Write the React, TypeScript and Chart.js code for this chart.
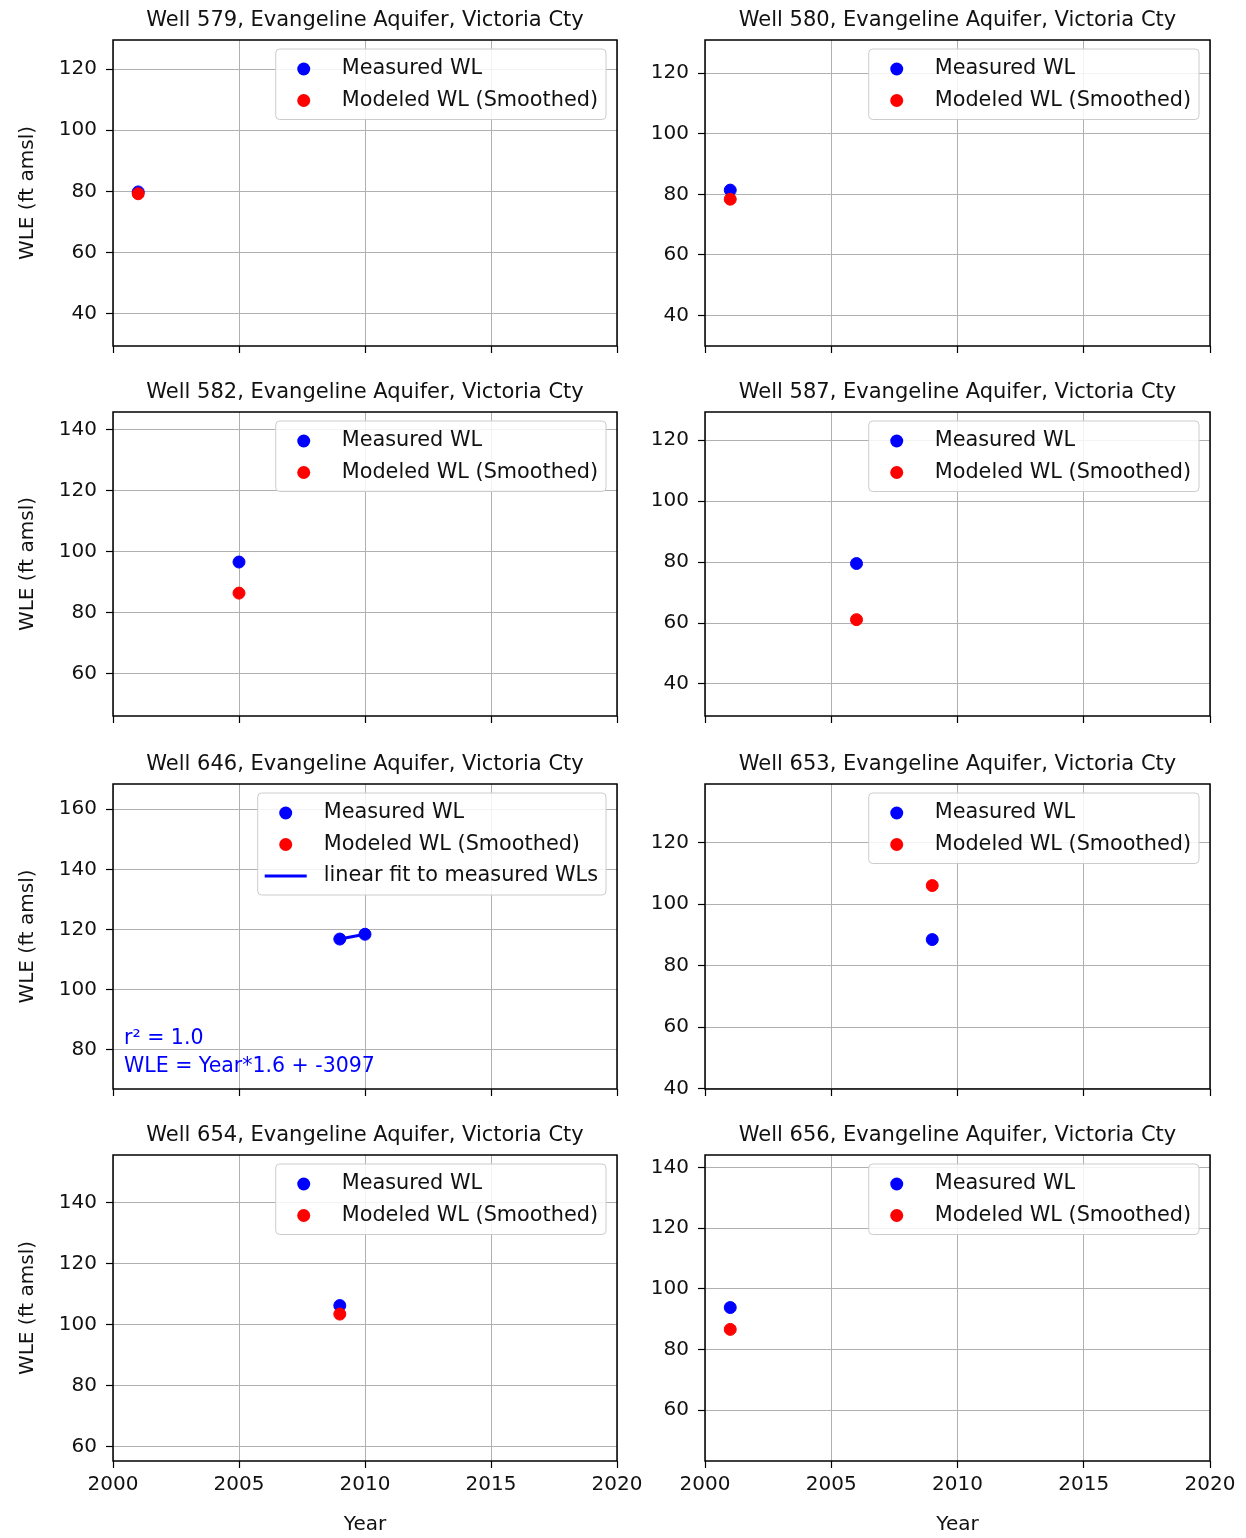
import React, { useEffect, useRef } from "react";
import { Chart, registerables } from "chart.js";

Chart.register(...registerables);

const FONT = "'DejaVu Sans', sans-serif";

// ---- data ----
const wellIds = ["579", "580", "582", "587", "646", "653", "654", "656"];
const aquifer = "Evangeline Aquifer";
const county = "Victoria Cty";

const measuredYears = [[2001], [2001], [2005], [2006], [2009, 2010], [2009], [2009], [2001]];
const measuredWL = [[79.8], [81.4], [96.7], [79.5], [116.8, 118.4], [88.5], [106.3], [93.8]];

const modeledYears = [[2001], [2001], [2005], [2006], [], [2009], [2009], [2001]];
const modeledWL = [[79.2], [78.4], [86.5], [61.1], [], [106.1], [103.5], [86.6]];

const fitYears = [[], [], [], [], [2009, 2010], [], [], []];
const fitWL = [[], [], [], [], [116.8, 118.4], [], [], []];

const fitText = [[], [], [], [], ["r² = 1.0", "WLE = Year*1.6 + -3097"], [], [], []];

const seriesLabels = ["Measured WL", "Modeled WL (Smoothed)", "linear fit to measured WLs"];

const xTicks = [2000, 2005, 2010, 2015, 2020];
const xMin = 2000;
const xMax = 2020;

const yMin = [29.4, 29.9, 46.2, 29.5, 66.9, 39.8, 55.4, 43.2];
const yMax = [129.5, 131, 145.9, 129.2, 168.4, 139.2, 155.6, 144.1];
const yTicks = [
  [40, 60, 80, 100, 120],
  [40, 60, 80, 100, 120],
  [60, 80, 100, 120, 140],
  [40, 60, 80, 100, 120],
  [80, 100, 120, 140, 160],
  [40, 60, 80, 100, 120],
  [60, 80, 100, 120, 140],
  [60, 80, 100, 120, 140],
];

const yLabel = "WLE (ft amsl)";
const xLabel = "Year";

// ---- layout ----
const colCanvasLeft = [0, 623];
const colCanvasWidth = [660, 623];
const colPlotLeft = [113, 82];
const colPlotRightPad = [43, 36];
const rowCanvasTop = [0, 372, 744, 1115];
const rowCanvasHeight = [372, 370, 371, 423];

const TEXT = "#111";
const LEGEND_FONT = 20.8;
const TITLE_FONT = 21;

function Panel({ idx }: { idx: number }) {
  const ref = useRef<HTMLCanvasElement>(null);
  const row = Math.floor(idx / 2);
  const col = idx % 2;
  const isBottom = row === 3;
  const isLeft = col === 0;

  useEffect(() => {
    if (!ref.current) return;
    const datasets: any[] = [
      {
        label: seriesLabels[0],
        data: measuredYears[idx].map((x, k) => ({ x, y: measuredWL[idx][k] })),
        backgroundColor: "#0000ff",
        borderColor: "#0000ff",
        pointRadius: 6,
        borderWidth: 1,
        showLine: false,
        order: 1,
      },
      {
        label: seriesLabels[1],
        data: modeledYears[idx].map((x, k) => ({ x, y: modeledWL[idx][k] })),
        backgroundColor: "#ff0000",
        borderColor: "#ff0000",
        pointRadius: 6,
        borderWidth: 1,
        showLine: false,
        order: 0,
      },
    ];
    if (fitYears[idx].length) {
      datasets.push({
        label: seriesLabels[2],
        data: fitYears[idx].map((x, k) => ({ x, y: fitWL[idx][k] })),
        borderColor: "#0000ff",
        backgroundColor: "#0000ff",
        borderWidth: 3,
        pointRadius: 0,
        showLine: true,
        order: 2,
      });
    }

    const decor = {
      id: "decor",
      afterDraw(chart: any) {
        const { ctx, chartArea: a } = chart;
        ctx.save();
        // frame
        ctx.strokeStyle = "#000";
        ctx.lineWidth = 1.5;
        ctx.strokeRect(a.left, a.top, a.right - a.left, a.bottom - a.top);
        // title
        ctx.fillStyle = TEXT;
        ctx.font = `${TITLE_FONT}px ${FONT}`;
        ctx.textAlign = "center";
        ctx.textBaseline = "middle";
        ctx.fillText(`Well ${wellIds[idx]}, ${aquifer}, ${county}`, (a.left + a.right) / 2, a.top - 19);
        // fit annotation
        const lines = fitText[idx];
        if (lines.length) {
          ctx.fillStyle = "#0000ff";
          ctx.textAlign = "left";
          ctx.font = `20.5px ${FONT}`;
          ctx.fillText(lines[0], a.left + 11, a.bottom - 50);
          ctx.fillText(lines[1], a.left + 11, a.bottom - 22);
        }
        // legend
        const ds = chart.data.datasets;
        ctx.font = `${LEGEND_FONT}px ${FONT}`;
        let maxW = 0;
        ds.forEach((d: any) => {
          maxW = Math.max(maxW, ctx.measureText(d.label).width);
        });
        const boxW = 66 + maxW + 8;
        const n = ds.length;
        const boxH = 20 + (n - 1) * 31.5 + 19;
        const boxR = a.right - 11;
        const boxL = boxR - boxW;
        const boxT = a.top + 9;
        ctx.beginPath();
        (ctx as any).roundRect(boxL, boxT, boxW, boxH, 4);
        ctx.fillStyle = "rgba(255,255,255,0.85)";
        ctx.fill();
        ctx.strokeStyle = "#cccccc";
        ctx.lineWidth = 1;
        ctx.stroke();
        ds.forEach((d: any, i: number) => {
          const cy = boxT + 20 + i * 31.5;
          if (d.showLine) {
            ctx.strokeStyle = d.borderColor;
            ctx.lineWidth = 3;
            ctx.beginPath();
            ctx.moveTo(boxL + 7, cy);
            ctx.lineTo(boxL + 49, cy);
            ctx.stroke();
          } else {
            ctx.fillStyle = d.backgroundColor;
            ctx.beginPath();
            ctx.arc(boxL + 28, cy, 6.5, 0, Math.PI * 2);
            ctx.fill();
          }
          ctx.fillStyle = TEXT;
          ctx.textAlign = "left";
          ctx.textBaseline = "middle";
          ctx.fillText(d.label, boxL + 66, cy);
        });
        ctx.restore();
      },
    };

    const chart = new Chart(ref.current, {
      type: "scatter",
      data: { datasets },
      plugins: [decor],
      options: {
        animation: false,
        responsive: false,
        events: [],
        layout: {
          padding: { top: 40, left: 0, right: colPlotRightPad[col], bottom: isBottom ? 0 : 18 },
        },
        plugins: {
          legend: { display: false },
          title: { display: false },
          tooltip: { enabled: false },
        },
        scales: {
          x: {
            type: "linear",
            min: xMin,
            max: xMax,
            bounds: "data",
            afterBuildTicks: (s: any) => {
              s.ticks = xTicks.map((v) => ({ value: v }));
            },
            afterFit: (s: any) => {
              s.height = isBottom ? 77 : 8;
            },
            grid: { color: "#b0b0b0", lineWidth: 1, tickLength: 7, tickColor: "#000", tickWidth: 1.2 },
            border: { display: false },
            ticks: {
              display: isBottom,
              font: { family: FONT, size: 20 },
              color: TEXT,
              padding: 5,
              maxRotation: 0,
              autoSkip: false,
              callback: (v: any) => String(v),
            },
            title: {
              display: isBottom,
              text: xLabel,
              font: { family: FONT, size: 20 },
              color: TEXT,
              padding: { top: 0, bottom: 1 },
            },
          },
          y: {
            type: "linear",
            position: "left",
            min: yMin[idx],
            max: yMax[idx],
            bounds: "data",
            afterBuildTicks: (s: any) => {
              s.ticks = yTicks[idx].map((v) => ({ value: v }));
            },
            afterFit: (s: any) => {
              s.width = colPlotLeft[col];
            },
            grid: { color: "#b0b0b0", lineWidth: 1, tickLength: 7, tickColor: "#000", tickWidth: 1.2 },
            border: { display: false },
            ticks: {
              font: { family: FONT, size: 20 },
              color: TEXT,
              padding: 9,
              autoSkip: false,
              callback: (v: any) => String(v),
            },
            title: {
              display: isLeft,
              text: yLabel,
              font: { family: FONT, size: 20 },
              color: TEXT,
              padding: { top: 16, bottom: 0 },
            },
          },
        },
      } as any,
    });
    return () => chart.destroy();
  }, [idx]);

  return (
    <canvas
      ref={ref}
      width={colCanvasWidth[col]}
      height={rowCanvasHeight[row]}
      style={{
        position: "absolute",
        left: colCanvasLeft[col],
        top: rowCanvasTop[row],
        width: colCanvasWidth[col],
        height: rowCanvasHeight[row],
      }}
    />
  );
}

export default function App() {
  return (
    <div style={{ position: "absolute", left: 0, top: 0, width: 1246, height: 1538, background: "#fff" }}>
      {wellIds.map((_, i) => (
        <Panel key={i} idx={i} />
      ))}
    </div>
  );
}
